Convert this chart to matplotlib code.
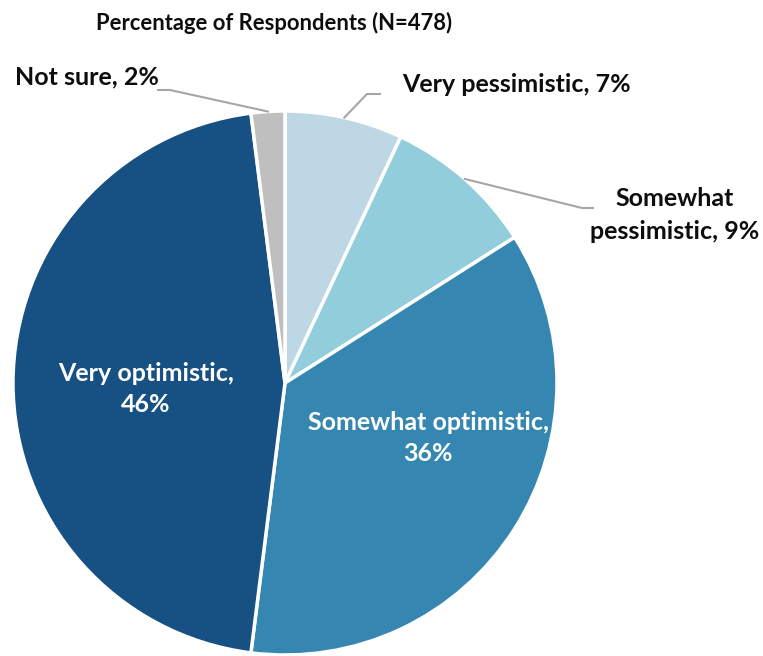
import numpy as np
import matplotlib
matplotlib.use("Agg")
import matplotlib.pyplot as plt

categories = ["Very pessimistic", "Somewhat pessimistic", "Somewhat optimistic",
              "Very optimistic", "Not sure"]
values = [7, 9, 36, 46, 2]
colors = ["#BDD7E4", "#92CDDC", "#3587B1", "#175083", "#BFBFBF"]
title = "Percentage of Respondents (N=478)"

W, H = 763, 656
plt.rcParams['font.family'] = ['Lato', 'DejaVu Sans']
fig = plt.figure(figsize=(W / 100, H / 100), dpi=100)
ax = fig.add_axes([0, 0, 1, 1])

cx, cy, R = 285, H - 383, 272
wedges, _ = ax.pie(values, colors=colors, startangle=90, counterclock=False,
                   center=(cx, cy), radius=R, frame=True,
                   wedgeprops=dict(edgecolor='white', linewidth=2.5))
ax.set_xlim(0, W)
ax.set_ylim(0, H)
ax.set_aspect('equal')
ax.axis('off')

def mid_point(w, frac=1.0):
    a = np.deg2rad((w.theta1 + w.theta2) / 2)
    return cx + R * frac * np.cos(a), cy + R * frac * np.sin(a)

fs = 18
ax.text(274, H - 23, title, ha='center', va='center', fontsize=15.8,
        fontweight='bold', color='#0D0D0D')

lbl_color = '#0D0D0D'
line_color = '#A6A6A6'

# Not sure
p = mid_point(wedges[4])
ax.plot([p[0], 170, 158], [p[1], H - 90, H - 90], color=line_color, lw=1.5)
ax.text(15, H - 77, f"{categories[4]}, {values[4]}%", ha='left', va='center',
        fontsize=fs, fontweight='bold', color=lbl_color)

# Very pessimistic
p = mid_point(wedges[0])
ax.plot([p[0], 367, 380], [p[1], H - 94, H - 94], color=line_color, lw=1.5)
ax.text(402, H - 85, f"{categories[0]}, {values[0]}%", ha='left', va='center',
        fontsize=fs, fontweight='bold', color=lbl_color)

# Somewhat pessimistic
p = mid_point(wedges[1])
ax.plot([p[0], 582, 593], [p[1], H - 208, H - 208], color=line_color, lw=1.5)
ax.text(675, H - 215, "Somewhat\npessimistic, 9%", ha='center', va='center',
        fontsize=fs, fontweight='bold', color=lbl_color, linespacing=1.5)

# Inside labels
ax.text(146, H - 389, f"{categories[3]},\n{values[3]}%", ha='center', va='center',
        fontsize=fs, fontweight='bold', color='white', linespacing=1.45)
ax.text(428, H - 438, f"{categories[2]},\n{values[2]}%", ha='center', va='center',
        fontsize=fs, fontweight='bold', color='white', linespacing=1.45)

fig.savefig("out.png", dpi=100, facecolor='white')
